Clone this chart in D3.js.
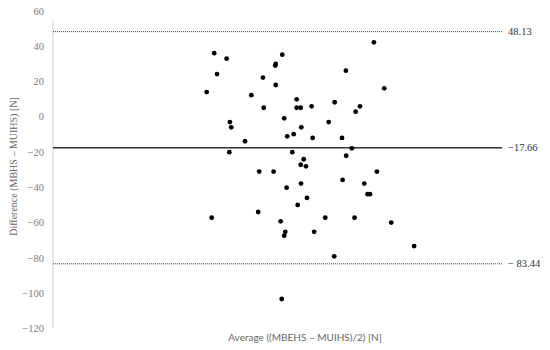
<!DOCTYPE html>
<html><head><meta charset="utf-8">
<script src="https://cdn.jsdelivr.net/npm/d3@7"></script>
<style>body{margin:0;background:#fff}</style>
</head><body><svg id="c" width="550" height="350"></svg>
<script>
const avgValues = [214.4,107.7,116.0,153.2,148.8,148.5,109.6,195.7,140.3,148.8,102.7,132.5,162.8,188.2,140.8,162.8,165.5,172.8,205.1,202.2,154.5,118.2,184.2,119.1,165.9,156.5,160.8,173.5,193.1,128.3,199.7,117.8,159.9,195.9,167.5,165.5,169.0,137.8,147.4,216.4,193.5,165.7,208.0,156.1,210.2,211.8,169.7,163.5,137.1,106.0,181.9,201.5,152.1,155.2,154.5,174.5,187.9,152.8,221.3,226.0,241.3];
const diffValues = [42.1,35.9,32.8,35.1,29.8,28.9,24.1,26.0,22.1,17.9,13.9,12.1,9.8,8.1,5.0,5.0,5.0,5.8,5.8,2.8,-1.0,-3.1,-3.1,-6.1,-6.1,-11.2,-10.0,-12.1,-12.1,-14.0,-18.0,-20.2,-20.2,-22.2,-24.2,-27.3,-28.2,-31.2,-31.2,-31.2,-35.9,-38.0,-38.0,-40.3,-44.0,-44.0,-46.1,-50.1,-54.1,-57.3,-57.3,-57.3,-59.4,-65.3,-67.5,-65.3,-79.2,-103.4,16.0,-60.1,-73.4];
const yTicks = [60,40,20,0,-20,-40,-60,-80,-100,-120];
const meanDiff = -17.66;
const upperLoA = 48.13;
const lowerLoA = -83.44;
const lineLabels = ["48.13","\u221217.66","\u2212 83.44"];
const yTitle = "Difference (MBHS \u2013 MUIHS) [N]";
const xTitle = "Average ((MBEHS \u2013 MUIHS)/2) [N]";

const svg = d3.select("#c");
const L = 53, R = 502, T = 10.7, B = 328.3;
const x = d3.scaleLinear().domain([0,300]).range([L,R]);
const y = d3.scaleLinear().domain([-120,60]).range([B,T]);
const serif = "'Liberation Serif','DejaVu Serif',serif";

// y axis
const yAxis = d3.axisLeft(y).tickValues(yTicks).tickSize(0).tickPadding(9).tickFormat(d3.format("d"));
const ga = svg.append("g").attr("transform",`translate(${L},0)`).call(yAxis);
ga.select(".domain").remove();
ga.selectAll("text").attr("font-family",serif).attr("font-size",10.5).attr("fill","#7a7a7a");
svg.append("line").attr("x1",L).attr("x2",L).attr("y1",y(55)).attr("y2",y(-120))
  .attr("stroke","#d9d9d9").attr("stroke-width",1.2);

// reference lines
const refs = [
  {v:upperLoA, dash:"1,1", w:1, c:"#444", lab:lineLabels[0]},
  {v:meanDiff, dash:null, w:1.5, c:"#333", lab:lineLabels[1]},
  {v:lowerLoA, dash:"1,1", w:1, c:"#444", lab:lineLabels[2]}
];
refs.forEach(r=>{
  svg.append("line").attr("x1",L).attr("x2",R).attr("y1",y(r.v)).attr("y2",y(r.v))
    .attr("stroke",r.c).attr("stroke-width",r.w).attr("stroke-dasharray",r.dash);
  svg.append("text").attr("x",R+6).attr("y",y(r.v)).attr("dy","0.35em")
    .attr("font-family",serif).attr("font-size",10.5).attr("fill","#333").text(r.lab);
});

// points
svg.append("g").selectAll("circle").data(avgValues.map((a,i)=>[a,diffValues[i]]))
  .join("circle").attr("cx",d=>x(d[0])).attr("cy",d=>y(d[1])).attr("r",2.4).attr("fill","#000");

// titles
svg.append("text").attr("transform",`translate(17,${(T+B)/2-3}) rotate(-90)`)
  .attr("text-anchor","middle").attr("font-family",serif).attr("font-size",10)
  .attr("fill","#666").text(yTitle);
svg.append("text").attr("x",305).attr("y",341).attr("text-anchor","middle")
  .attr("font-family","Lato,'Open Sans',sans-serif").attr("font-size",10)
  .attr("fill","#666").text(xTitle);
</script></body></html>
